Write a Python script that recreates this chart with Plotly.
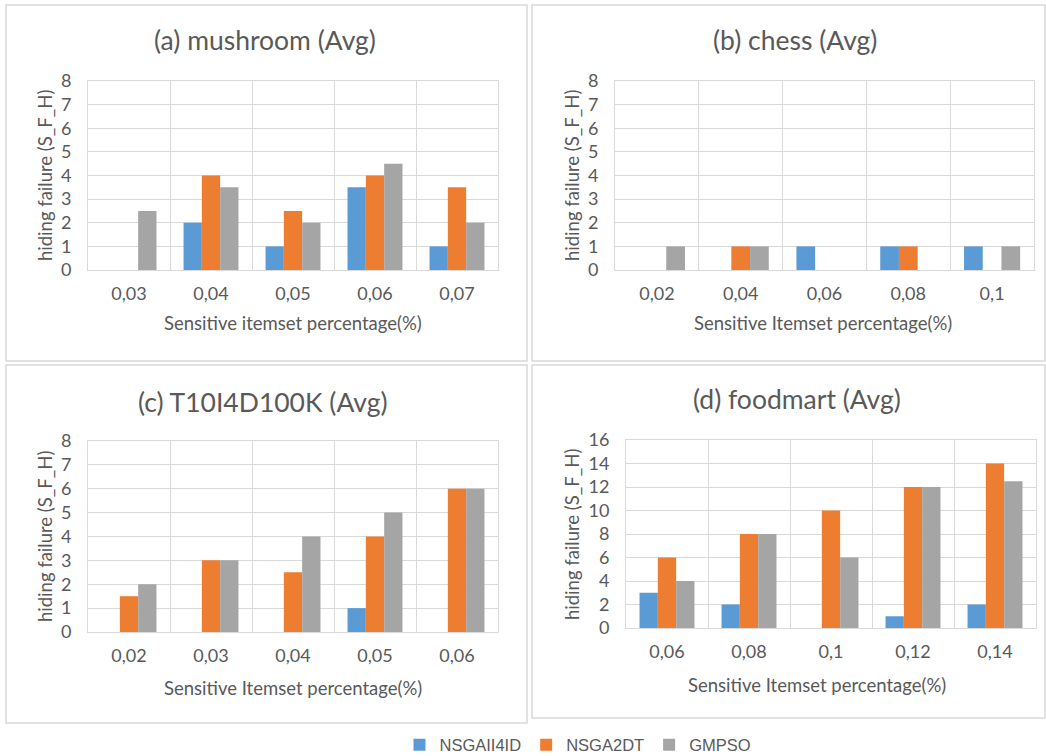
import plotly.graph_objects as go

# Series names and colours
series = ["NSGAII4ID", "NSGA2DT", "GMPSO"]
colors = ["#5B9BD5", "#ED7D31", "#A5A5A5"]

# (a) mushroom
mush_cats = ["0,03", "0,04", "0,05", "0,06", "0,07"]
mush_nsgaii4id = [0, 2, 1, 3.5, 1]
mush_nsga2dt = [0, 4, 2.5, 4, 3.5]
mush_gmpso = [2.5, 3.5, 2, 4.5, 2]

# (b) chess
chess_cats = ["0,02", "0,04", "0,06", "0,08", "0,1"]
chess_nsgaii4id = [0, 0, 1, 1, 1]
chess_nsga2dt = [0, 1, 0, 1, 0]
chess_gmpso = [1, 1, 0, 0, 1]

# (c) T10I4D100K
t10_cats = ["0,02", "0,03", "0,04", "0,05", "0,06"]
t10_nsgaii4id = [0, 0, 0, 1, 0]
t10_nsga2dt = [1.5, 3, 2.5, 4, 6]
t10_gmpso = [2, 3, 4, 5, 6]

# (d) foodmart
food_cats = ["0,06", "0,08", "0,1", "0,12", "0,14"]
food_nsgaii4id = [3, 2, 0, 1, 2]
food_nsga2dt = [6, 8, 10, 12, 14]
food_gmpso = [4, 8, 6, 12, 12.5]

W, H = 1046, 756
FONT = "Lato, 'Open Sans', sans-serif"
TXT = "#595959"
GRID = "#D9D9D9"


def px(x):
    return x / W


def py(y):
    return 1 - y / H


panels = [
    dict(title="(a) mushroom (Avg)", cats=mush_cats,
         vals=[mush_nsgaii4id, mush_nsga2dt, mush_gmpso],
         xtitle="Sensitive itemset percentage(%)",
         plot=(88, 498, 81, 270), box=(6, 527, 5, 361),
         tpos=(265, 40), ylab=(45, 176), xlab=(293, 323), ymax=8, dtick=1),
    dict(title="(b) chess (Avg)", cats=chess_cats,
         vals=[chess_nsgaii4id, chess_nsga2dt, chess_gmpso],
         xtitle="Sensitive Itemset percentage(%)",
         plot=(615, 1034, 81, 270), box=(532, 1045, 5, 361),
         tpos=(795, 40), ylab=(572, 176), xlab=(823, 323), ymax=8, dtick=1),
    dict(title="(c) T10I4D100K (Avg)", cats=t10_cats,
         vals=[t10_nsgaii4id, t10_nsga2dt, t10_gmpso],
         xtitle="Sensitive Itemset percentage(%)",
         plot=(88, 498, 441, 632), box=(6, 527, 365, 723),
         tpos=(263, 402), ylab=(45, 537), xlab=(293, 688), ymax=8, dtick=1),
    dict(title="(d) foodmart (Avg)", cats=food_cats,
         vals=[food_nsgaii4id, food_nsga2dt, food_gmpso],
         xtitle="Sensitive Itemset percentage(%)",
         plot=(626, 1036, 440, 628), box=(532, 1045, 365, 718),
         tpos=(797, 399), ylab=(572, 535), xlab=(817, 685), ymax=16, dtick=2),
]

fig = go.Figure()
shapes = []
annotations = []
layout_axes = {}

for i, p in enumerate(panels, start=1):
    sx = "" if i == 1 else str(i)
    for name, col, vals in zip(series, colors, p["vals"]):
        fig.add_trace(go.Bar(
            x=p["cats"], y=vals, name=name, marker_color=col,
            marker_line_width=0, showlegend=(i == 1),
            xaxis="x" + sx, yaxis="y" + sx,
        ))
    x0, x1, y0, y1 = p["plot"]
    layout_axes["xaxis" + sx] = dict(
        domain=[px(x0), px(x1)], anchor="y" + sx, type="category",
        showgrid=True, gridcolor=GRID, gridwidth=1, tickson="boundaries",
        ticks="", showline=True, linecolor=GRID, linewidth=1, mirror=True,
        tickfont=dict(family=FONT, size=18, color=TXT),
        ticklabelstandoff=7, zeroline=False, fixedrange=True, automargin=False,
    )
    layout_axes["yaxis" + sx] = dict(
        domain=[py(y1), py(y0)], anchor="x" + sx,
        range=[0, p["ymax"]], dtick=p["dtick"], tick0=0,
        showgrid=True, gridcolor=GRID, gridwidth=1,
        showline=True, linecolor=GRID, linewidth=1, mirror=True,
        ticks="", zeroline=False,
        tickfont=dict(family=FONT, size=18, color=TXT),
        ticklabelstandoff=12, fixedrange=True, automargin=False,
    )
    bx0, bx1, by0, by1 = p["box"]
    shapes.append(dict(type="rect", xref="paper", yref="paper",
                       x0=px(bx0), x1=px(bx1), y0=py(by1), y1=py(by0),
                       line=dict(color=GRID, width=1.5), layer="below"))
    annotations.append(dict(text=p["title"], x=px(p["tpos"][0]), y=py(p["tpos"][1]),
                            xref="paper", yref="paper", showarrow=False,
                            xanchor="center", yanchor="middle",
                            font=dict(family=FONT, size=26.5, color=TXT)))
    annotations.append(dict(text="hiding failure (S_F_H)", x=px(p["ylab"][0]),
                            y=py(p["ylab"][1]), xref="paper", yref="paper",
                            showarrow=False, textangle=-90,
                            xanchor="center", yanchor="middle",
                            font=dict(family=FONT, size=18.5, color=TXT)))
    annotations.append(dict(text=p["xtitle"], x=px(p["xlab"][0]), y=py(p["xlab"][1]),
                            xref="paper", yref="paper", showarrow=False,
                            xanchor="center", yanchor="middle",
                            font=dict(family=FONT, size=18.5, color=TXT)))

fig.update_layout(
    width=W, height=H,
    margin=dict(l=0, r=0, t=0, b=0, autoexpand=False),
    paper_bgcolor="white", plot_bgcolor="white",
    barmode="group", bargap=0.33, bargroupgap=0,
    shapes=shapes, annotations=annotations,
    legend=dict(orientation="h", x=px(578), y=py(745), xanchor="center",
                yanchor="middle",
                font=dict(family="'Liberation Sans', Arial, sans-serif",
                          size=16.5, color=TXT),
                itemwidth=30, traceorder="normal"),
    **layout_axes,
)

fig.write_html("out.html")
